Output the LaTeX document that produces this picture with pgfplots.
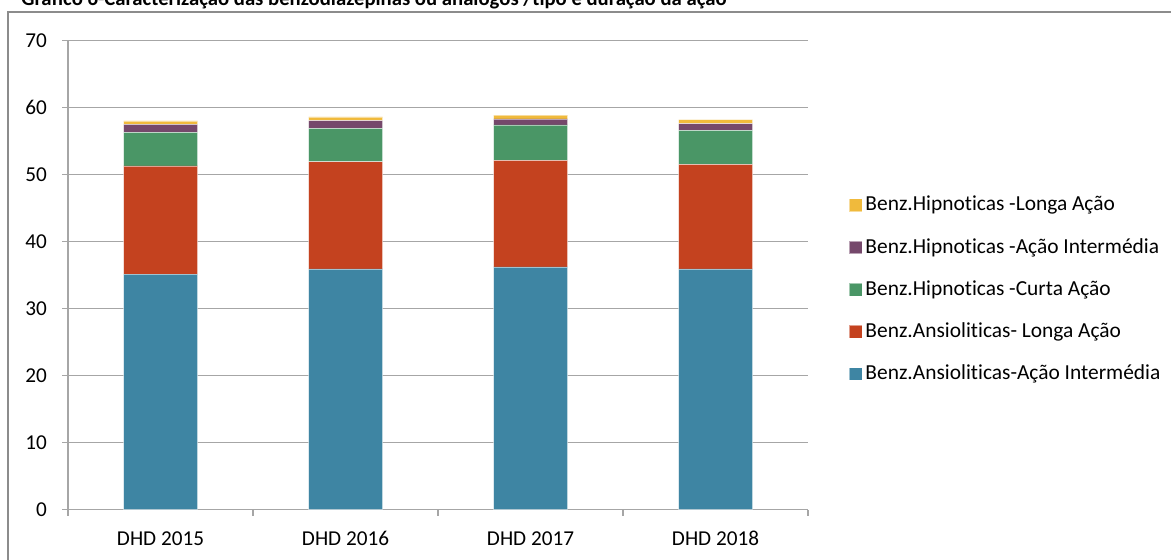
\documentclass[border=0pt]{standalone}
\usepackage{fontspec}
\setmainfont{Carlito}[Ligatures=NoCommon]
\usepackage{pgfplots}
\pgfplotsset{compat=1.18}
\definecolor{cblue}{HTML}{3E85A3}
\definecolor{cred}{HTML}{C4421F}
\definecolor{cgreen}{HTML}{4A9666}
\definecolor{cpurple}{HTML}{75486B}
\definecolor{cyellow}{HTML}{F0BA3C}
\definecolor{cgrid}{HTML}{A6A6A6}
\definecolor{cframe}{HTML}{8C8C8C}
\begin{document}
\begin{tikzpicture}
\useasboundingbox (0,0) rectangle (585.5pt,279.5pt);
\draw[cframe, line width=0.6pt] (4pt,-5pt) -- (4pt,273.5pt) -- (600pt,273.5pt);
\node[anchor=base west, inner sep=0pt, font=\fontsize{10.35}{12}\selectfont\bfseries] at (10.5pt,276.7pt) {Gráfico 6-Caracterização das benzodiazepinas ou análogos /tipo e duração da ação};
\begin{axis}[
  at={(34pt,24.75pt)}, anchor=south west,
  width=370pt, height=234.5pt, scale only axis,
  ybar stacked, bar width=37pt,
  xmin=-0.5, xmax=3.5, ymin=0, ymax=70,
  xtick={0,1,2,3},
  xticklabels={DHD 2015,DHD 2016,DHD 2017,DHD 2018},
  minor xtick={-0.5,0.5,1.5,2.5,3.5},
  ytick={0,10,...,70},
  tick align=outside,
  major tick length=3pt, minor tick length=3pt,
  major x tick style={draw=none},
  minor x tick style={cgrid, line width=0.6pt},
  major y tick style={cgrid, line width=0.6pt},
  axis x line*=bottom, axis y line*=left,
  axis line style={cgrid, line width=0.6pt},
  ymajorgrids, grid style={cgrid, line width=0.6pt},
  /pgf/number format/assume math mode=true,
  ticklabel style={font=\fontsize{10.6}{12}\selectfont},
  yticklabel style={xshift=-4pt},
  xticklabel style={anchor=base, yshift=-15pt},
  legend style={at={(1.055,0.469)}, anchor=west, draw=none, fill=none,
     font=\fontsize{10.7}{12}\selectfont, row sep=9.2pt, inner sep=0pt,
     nodes={inner sep=1.5pt}},
  legend cell align=left,
  reverse legend,
  legend image code/.code={\fill[#1] (0pt,-3.2pt) rectangle (6.4pt,3.2pt);},
  every axis plot/.append style={draw=white, draw opacity=0.5, line width=0.3pt},
]
\addplot[fill=cblue] coordinates {(0,35.15) (1,35.9) (2,36.2) (3,35.9)};
\addplot[fill=cred] coordinates {(0,16.15) (1,16.0) (2,15.9) (3,15.6)};
\addplot[fill=cgreen] coordinates {(0,5.0) (1,5.0) (2,5.3) (3,5.1)};
\addplot[fill=cpurple] coordinates {(0,1.2) (1,1.15) (2,0.9) (3,1.0)};
\addplot[fill=cyellow] coordinates {(0,0.5) (1,0.55) (2,0.55) (3,0.6)};
\legend{Benz.Ansioliticas-Ação Intermédia,Benz.Ansioliticas- Longa Ação,Benz.Hipnoticas -Curta Ação,Benz.Hipnoticas -Ação Intermédia,Benz.Hipnoticas -Longa Ação}
\end{axis}
\end{tikzpicture}
\end{document}
